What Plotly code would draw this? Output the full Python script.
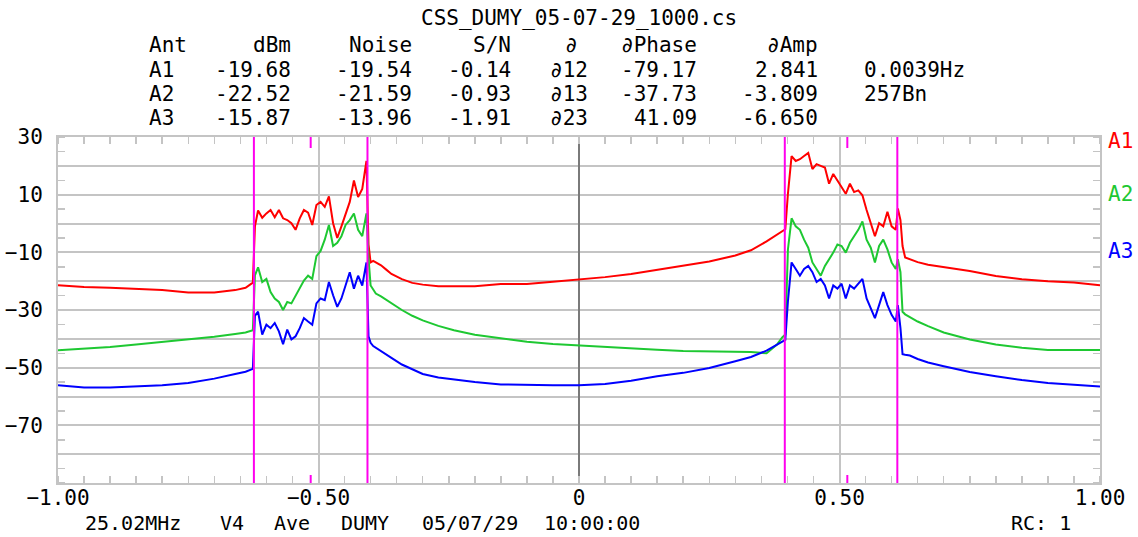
import plotly.graph_objects as go

# ---------------- data ----------------
x_bins = [
    -1.0, -0.95, -0.90, -0.85, -0.80, -0.75, -0.70, -0.66, -0.64, -0.626, -0.622,
    -0.616, -0.608, -0.600, -0.592, -0.584, -0.576, -0.568, -0.560, -0.552, -0.544,
    -0.536, -0.528, -0.520, -0.512, -0.504, -0.496, -0.488, -0.480, -0.472, -0.464,
    -0.456, -0.448, -0.440, -0.432, -0.424, -0.416, -0.408,
    -0.404, -0.400, -0.395, -0.39, -0.38, -0.37, -0.36, -0.34, -0.32, -0.30, -0.27,
    -0.24, -0.20, -0.15, -0.10, -0.05, 0.0, 0.05, 0.10, 0.15, 0.20, 0.25, 0.30, 0.33,
    0.36, 0.38, 0.39, 0.396,
    0.401,
    0.408, 0.416, 0.424, 0.432, 0.440, 0.448, 0.456, 0.464, 0.472, 0.480, 0.488,
    0.496, 0.504, 0.512, 0.520, 0.528, 0.536, 0.544, 0.552, 0.560, 0.568, 0.576,
    0.584, 0.592, 0.600, 0.608,
    0.612, 0.617, 0.621, 0.626, 0.635, 0.65, 0.67, 0.70, 0.75, 0.80, 0.85, 0.90, 0.95, 1.0,
]

a1_dbm = [
    -21.4, -22.0, -22.3, -22.8, -23.1, -23.9, -23.9, -23.1, -22.3, -20.5, -1.0,
    4.5, 2.0, 3.5, 4.7, 2.2, 4.7, 1.8, 1.2, 0.1, -2.2, 1.8, 4.7, 3.8, -0.5, 6.4, 7.5,
    5.8, 9.4, 0.1, -5.0, -1.0, 3.5, 7.5, 14.9, 9.2, 12.0, 21.7,
    -7.3, -13.5, -13.0, -13.5, -14.5, -16.0, -17.5, -19.3, -20.6, -21.2, -21.8, -21.8,
    -21.8, -21.0, -21.0, -20.2, -19.5, -18.6, -17.5, -16.1, -14.7, -13.2, -11.1, -9.3,
    -6.2, -3.9, -2.8, -2.0,
    10.3,
    23.4, 21.7, 22.3, 23.4, 24.5, 18.9, 20.6, 20.0, 19.4, 13.8, 17.2, 14.9, 12.6, 10.3,
    13.8, 10.9, 11.5, 9.8, 4.7, 0.1, -4.4, 0.1, -1.0, 4.1, -1.0, -2.2,
    5.2, 1.2, -7.8, -11.8, -12.5, -13.4, -14.3, -15.1, -16.5, -18.2, -19.3, -20.0, -20.5, -21.4,
]

a2_dbm = [
    -44.0, -43.5, -42.8, -42.0, -41.1, -40.2, -39.3, -38.3, -37.8, -37.0, -18.0,
    -15.2, -20.3, -19.2, -23.8, -26.0, -27.2, -30.0, -27.2, -27.7, -24.9, -22.6, -19.8,
    -18.1, -19.2, -11.3, -9.5, -5.6, -0.5, -7.8, -6.7, -4.4, -0.5, 1.2, 3.5, -2.2, -4.4, 3.5,
    -12.0, -21.5, -23.0, -24.3, -25.3, -26.5, -27.8, -30.0, -32.0, -33.6, -35.5, -37.0,
    -38.6, -39.8, -41.0, -41.8, -42.3, -43.0, -43.5, -43.8, -44.2, -44.4, -44.6, -44.6,
    -45.0, -42.0, -39.5, -38.5,
    -9.0,
    1.8, -1.0, -2.2, -5.6, -8.4, -13.5, -15.8, -18.1, -14.7, -12.4, -10.1, -7.3, -7.8,
    -10.1, -6.7, -4.4, -2.2, 0.7, -5.6, -8.4, -13.5, -7.8, -5.6, -9.0, -13.5, -15.8,
    -12.4, -16.9, -30.6, -31.5, -32.4, -34.0, -35.6, -37.8, -40.2, -42.0, -43.1, -43.9, -43.9, -43.9,
]

a3_dbm = [
    -56.1, -56.9, -56.9, -56.5, -56.1, -55.3, -53.8, -52.2, -51.4, -50.4, -32.0,
    -30.6, -38.5, -35.1, -36.3, -34.5, -37.4, -41.9, -36.8, -40.2, -39.1, -36.3, -32.8,
    -34.0, -35.1, -27.7, -26.0, -26.6, -20.3, -24.9, -28.9, -26.0, -21.5, -16.9, -22.6,
    -18.1, -21.5, -13.5,
    -39.1, -41.4, -42.5, -43.1, -44.5, -45.5, -46.6, -48.9, -50.5, -52.2, -53.4, -54.1,
    -55.0, -55.8, -56.0, -56.1, -56.1, -55.7, -54.5, -53.0, -51.8, -50.1, -47.8, -46.3,
    -44.1, -42.1, -41.0, -40.4,
    -27.0,
    -13.5, -15.8, -18.1, -15.8, -14.7, -16.9, -20.3, -19.2, -21.5, -26.0, -21.5, -22.6,
    -20.9, -26.0, -21.5, -22.6, -20.9, -19.2, -26.0, -29.4, -32.8, -28.3, -23.8, -28.3,
    -31.7, -34.0,
    -28.3, -36.3, -45.3, -45.5, -45.8, -47.0, -48.2, -49.5, -51.5, -53.0, -54.3, -55.3, -56.0, -56.5,
]

series_names = ["A1", "A2", "A3"]
series_colors = ["#ff0000", "#1ec832", "#0000ff"]

# marker (cursor) positions
marker_lines = [-0.624, -0.406, 0.395, 0.611]
marker_ticks = [-0.515, 0.515]

# axis ticks
x_tickvals = [-1.0, -0.5, 0.0, 0.5, 1.0]
x_ticktext = ["\u22121.00", "\u22120.50", "0", "0.50", "1.00"]
y_tickvals = [-90, -80, -70, -60, -50, -40, -30, -20, -10, 0, 10, 20, 30]
y_ticktext = ["", "", "\u221270", "", "\u221250", "", "\u221230", "", "\u221210", "", "10", "", "30"]

# header table
title_text = "CSS_DUMY_05-07-29_1000.cs"
hdr = ["Ant", "dBm", "Noise", "S/N", "\u2202", "\u2202Phase", "\u2202Amp"]
ant_names = ["A1", "A2", "A3"]
dbm_vals = ["-19.68", "-22.52", "-15.87"]
noise_vals = ["-19.54", "-21.59", "-13.96"]
sn_vals = ["-0.14", "-0.93", "-1.91"]
delta_names = ["\u220212", "\u220213", "\u220223"]
dphase_vals = ["-79.17", "-37.73", "41.09"]
damp_vals = ["2.841", "-3.809", "-6.650"]
extra_vals = ["0.0039Hz", "257Bn", ""]
footer_items = ["25.02MHz", "V4", "Ave", "DUMY", "05/07/29", "10:00:00"]
footer_right = "RC: 1"

# ---------------- layout geometry ----------------
W, H = 1138, 537
L, R, T, B = 58, 1100, 137, 483
FONT = "DejaVu Sans Mono"
FS = 21
GRID = "#c4c4c4"


def px(xp):
    return (xp - L) / (R - L)


def py(yp):
    return (B - yp) / (B - T)


fig = go.Figure()
for name, ys, col in zip(series_names, [a1_dbm, a2_dbm, a3_dbm], series_colors):
    fig.add_trace(go.Scatter(x=x_bins, y=ys, mode="lines", name=name,
                             line=dict(color=col, width=2), showlegend=False))

shapes = []
for xv in marker_lines:
    shapes.append(dict(type="line", xref="x", yref="paper", x0=xv, x1=xv, y0=0, y1=1,
                       line=dict(color="#ff00ee", width=2), layer="above"))
for xv in marker_ticks:
    shapes.append(dict(type="line", xref="x", yref="paper", x0=xv, x1=xv, y0=1, y1=py(148),
                       line=dict(color="#ff00ee", width=2), layer="above"))
    shapes.append(dict(type="line", xref="x", yref="paper", x0=xv, x1=xv, y0=0, y1=py(475),
                       line=dict(color="#ff00ee", width=2), layer="above"))

ann = []


def txt(s, xp, yp, anchor="left", color="black", size=FS):
    ann.append(dict(text=s, x=px(xp), y=py(yp), xref="paper", yref="paper",
                    xanchor=anchor, yanchor="middle", showarrow=False,
                    font=dict(family=FONT, size=size, color=color)))


txt(title_text, 579, 18, "center")
row_y = [45, 70, 94, 118]
txt(hdr[0], 147, row_y[0], "left")
txt(hdr[1], 293, row_y[0], "right")
txt(hdr[2], 414, row_y[0], "right")
txt(hdr[3], 513, row_y[0], "right")
txt(hdr[4], 571, row_y[0], "center")
txt(hdr[5], 699, row_y[0], "right")
txt(hdr[6], 820, row_y[0], "right")
for i in range(3):
    yy = row_y[i + 1]
    txt(ant_names[i], 147, yy, "left")
    txt(dbm_vals[i], 293, yy, "right")
    txt(noise_vals[i], 414, yy, "right")
    txt(sn_vals[i], 513, yy, "right")
    txt(delta_names[i], 548, yy, "left")
    txt(dphase_vals[i], 699, yy, "right")
    txt(damp_vals[i], 820, yy, "right")
    if extra_vals[i]:
        txt(extra_vals[i], 862, yy, "left")

footer_x = [83, 218, 272, 339, 420, 542]
for s, xp in zip(footer_items, footer_x):
    txt(s, xp, 523, "left", size=20)
txt(footer_right, 1073, 523, "right", size=20)

legend_y = [141, 194, 251]
for s, c, yy in zip(series_names, series_colors, legend_y):
    txt(s, 1106, yy, "left", c)

fig.update_layout(
    width=W, height=H,
    margin=dict(l=L, r=W - R, t=T, b=H - B, pad=0, autoexpand=False),
    paper_bgcolor="white", plot_bgcolor="white",
    shapes=shapes, annotations=ann,
    font=dict(family=FONT, size=FS, color="black"),
    xaxis=dict(
        range=[-1, 1], tickmode="array", tickvals=x_tickvals, ticktext=x_ticktext,
        ticks="", showgrid=True, gridcolor=GRID, gridwidth=2, automargin=False,
        zeroline=True, zerolinecolor="#7a7a7a", zerolinewidth=1.5,
        showline=True, linecolor=GRID, linewidth=2, mirror="allticks",
        minor=dict(dtick=0.05, tick0=0, ticks="inside", ticklen=7, tickwidth=1.5,
                   tickcolor=GRID, showgrid=False),
        tickfont=dict(family=FONT, size=FS, color="black"),
        ticklabelstandoff=-5, fixedrange=True,
    ),
    yaxis=dict(
        range=[-90, 30], tickmode="array", tickvals=y_tickvals, ticktext=y_ticktext,
        ticks="", showgrid=True, gridcolor=GRID, gridwidth=2, zeroline=False,
        automargin=False,
        showline=True, linecolor=GRID, linewidth=2, mirror="allticks",
        minor=dict(dtick=5, tick0=0, ticks="inside", ticklen=7, tickwidth=1.5,
                   tickcolor=GRID, showgrid=False),
        tickfont=dict(family=FONT, size=FS, color="black"),
        ticklabelstandoff=9, fixedrange=True,
    ),
)

fig.write_html(
    "out.html",
    config={"displayModeBar": False, "staticPlot": True},
    post_script="document.body.style.margin='0';document.body.style.overflow='hidden';",
)
